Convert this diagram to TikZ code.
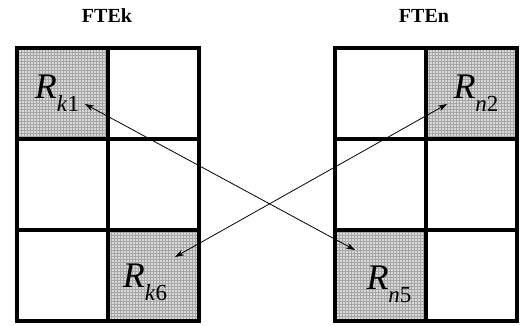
\documentclass[tikz,border=0pt]{standalone}
\usepackage{fontspec}
\setmainfont{Liberation Serif}
\usetikzlibrary{arrows.meta,patterns}
\tikzset{
  cell/.style={draw=black,line width=3.8pt,minimum width=91pt,minimum height=91pt,inner sep=0pt,anchor=north west},
  shade/.style={cell,preaction={fill=gray!30},pattern=grid,pattern color=gray!70},
  title/.style={font=\bfseries\fontsize{20}{22}\selectfont},
  lab/.style={font=\fontsize{36}{38}\selectfont,inner sep=0pt},
  link/.style={line width=0.8pt,{Stealth[length=9pt,width=6pt]}-{Stealth[length=9pt,width=6pt]}}
}
\newcommand{\Rlab}[2]{\textit{R}\raisebox{-0.36em}{\fontsize{23}{25}\selectfont\textit{#1}#2}}
\begin{document}
\begin{tikzpicture}[x=1pt,y=-1pt]
\useasboundingbox (0,0) rectangle (525,325);
% left grid
\node[shade] (k1) at (15,46) {};
\node[cell] (k2) at (106,46) {};
\node[cell] (k3) at (15,137) {};
\node[cell] (k4) at (106,137) {};
\node[cell] (k5) at (15,228) {};
\node[shade] (k6) at (106,228) {};
% right grid
\node[cell] (n1) at (333,46) {};
\node[shade] (n2) at (424,46) {};
\node[cell] (n3) at (333,137) {};
\node[cell] (n4) at (424,137) {};
\node[shade] (n5) at (333,228) {};
\node[cell] (n6) at (424,228) {};
% titles
\node[title] (tk) at (107,16) {FTEk};
\node[title] (tn) at (424,16) {FTEn};
% labels
\node[lab] (lk1) at (57,93) {\Rlab{k}{1}};
\node[lab] (ln2) at (476,93) {\Rlab{n}{2}};
\node[lab] (lk6) at (145,282) {\Rlab{k}{6}};
\node[lab] (ln5) at (389,284) {\Rlab{n}{5}};
% arrows
\coordinate (a1) at (85,104);
\coordinate (b1) at (355,250);
\coordinate (a2) at (447,104);
\coordinate (b2) at (175,257);
\draw[link] (a1) -- (b1);
\draw[link] (a2) -- (b2);
\end{tikzpicture}
\end{document}
